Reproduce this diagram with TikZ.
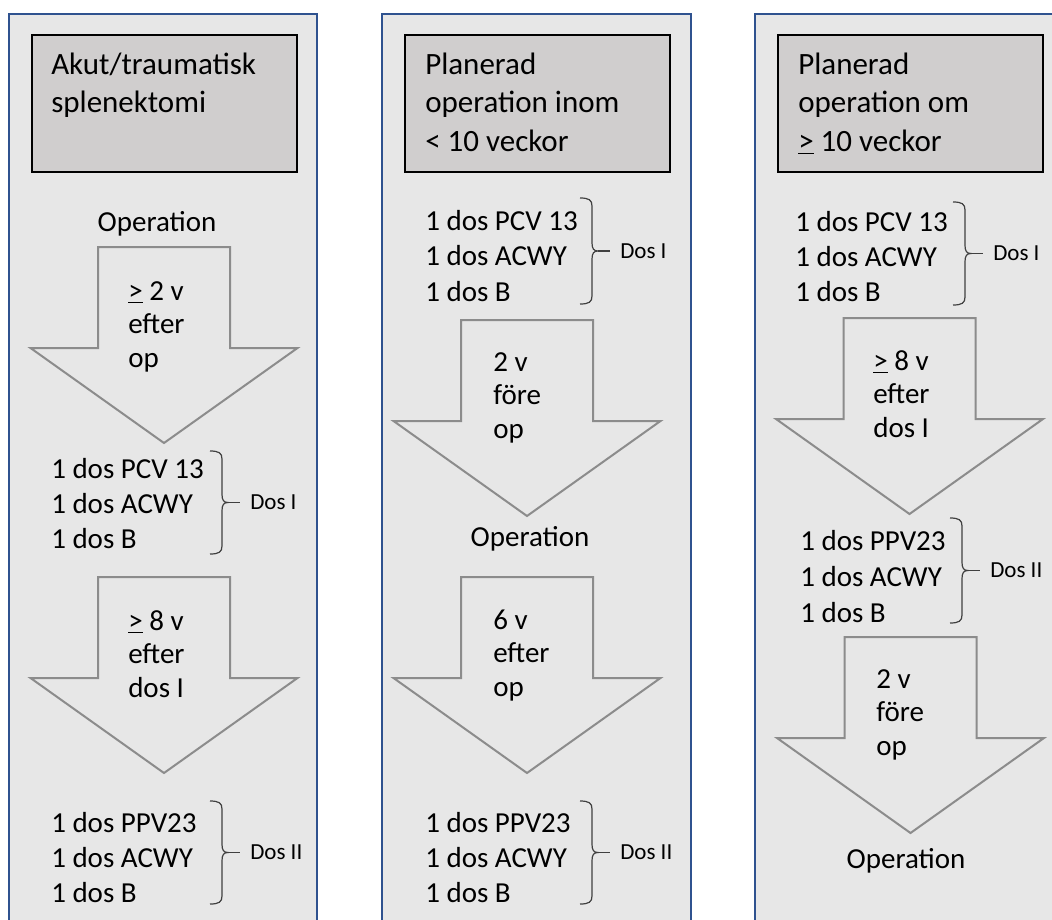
\documentclass[tikz,border=0pt]{standalone}
\usepackage{fontspec}
\setmainfont{Carlito}
\definecolor{panelfill}{RGB}{231,231,231}
\definecolor{panelblue}{RGB}{47,82,143}
\definecolor{hdrfill}{RGB}{208,206,206}
\definecolor{arrowgray}{RGB}{140,140,140}
\newcommand\vdownarrow[2]{%
  \draw[arrowbox] ({#1-66},#2) -- ({#1+66},#2) -- ({#1+66},{#2+101}) -- ({#1+133.5},{#2+101})
    -- (#1,{#2+196}) -- ({#1-133.5},{#2+101}) -- ({#1-66},{#2+101}) -- cycle;}
\newcommand\dosbrace[3]{% x, top, bottom
  \pgfmathsetmacro\bmid{(#2+#3)/2}%
  \draw[bracestyle] ({#1-12},#2) .. controls ({#1-3},#2) and (#1,{#2+2}) .. (#1,{#2+8})
    -- (#1,{\bmid-8}) .. controls (#1,{\bmid-2}) and ({#1+2},\bmid) .. ({#1+6},\bmid)
    .. controls ({#1+2},\bmid) and (#1,{\bmid+2}) .. (#1,{\bmid+8})
    -- (#1,{#3-8}) .. controls (#1,{#3-2}) and ({#1-3},#3) .. ({#1-12},#3);
  \draw[bracestyle] ({#1+6},\bmid) -- ({#1+18},\bmid);}
\begin{document}
\begin{tikzpicture}[x=0.75pt,y=-0.75pt,
  panel/.style={draw=panelblue,fill=panelfill,line width=1.5pt},
  hdrbox/.style={draw=black,fill=hdrfill,line width=1.8pt},
  arrowbox/.style={draw=arrowgray,fill=panelfill,line width=1.5pt,line join=miter},
  bracestyle/.style={draw=black!75,line width=0.9pt},
  hdr/.style={anchor=base west,inner sep=0pt,font=\fontsize{23.25}{28}\selectfont},
  txt/.style={anchor=base west,inner sep=0pt,font=\fontsize{21.75}{26}\selectfont},
  optxt/.style={anchor=base,inner sep=0pt,font=\fontsize{21.75}{26}\selectfont},
  dostxt/.style={anchor=west,inner sep=0pt,font=\fontsize{17.25}{20}\selectfont}]
\useasboundingbox (0,0) rectangle (1052,920);
\clip (0,0) rectangle (1052,920);
\fill[white] (0,0) rectangle (1052,920);
% panels
\draw[panel] (9,14) rectangle (317,940);
\draw[panel] (382,14) rectangle (691,940);
\draw[panel] (755,14) rectangle (1064,940);
% header boxes
\draw[hdrbox] (32,35) rectangle (297,172);
\draw[hdrbox] (405,35) rectangle (670,172);
\draw[hdrbox] (778,35) rectangle (1043,172);
% ---------- panel 1 ----------
\node[hdr] (a1) at (51,75) {Akut/traumatisk};
\node[hdr] (a2) at (51,113) {splenektomi};
\node[optxt] (aop) at (157,231) {Operation};
\vdownarrow{164}{247}
\node[txt] (aa1) at (128,300) {\underline{>} 2 v};
\node[txt] (aa2) at (128,333.5) {efter};
\node[txt] (aa3) at (128,367) {op};
\node[txt] (ad1) at (51,478) {1 dos PCV 13};
\node[txt] (ad2) at (51,513) {1 dos ACWY};
\node[txt] (ad3) at (51,548) {1 dos B};
\dosbrace{222}{451}{554}
\node[dostxt] (adI) at (250,502.5) {Dos I};
\vdownarrow{164}{577}
\node[txt] (ab1) at (128,630) {\underline{>} 8 v};
\node[txt] (ab2) at (128,663.5) {efter};
\node[txt] (ab3) at (128,697) {dos I};
\node[txt] (ae1) at (51,832) {1 dos PPV23};
\node[txt] (ae2) at (51,867) {1 dos ACWY};
\node[txt] (ae3) at (51,902) {1 dos B};
\dosbrace{222}{801}{904}
\node[dostxt] (adII) at (250,852.5) {Dos II};
% ---------- panel 2 ----------
\node[hdr] (b1) at (425,75) {Planerad};
\node[hdr] (b2) at (425,113) {operation inom};
\node[hdr] (b3) at (425,151.5) {< 10 veckor};
\node[txt] (bd1) at (425,230) {1 dos PCV 13};
\node[txt] (bd2) at (425,265.5) {1 dos ACWY};
\node[txt] (bd3) at (425,301) {1 dos B};
\dosbrace{592}{198}{304}
\node[dostxt] (bdI) at (620,251) {Dos I};
\vdownarrow{527}{320}
\node[txt] (ba1) at (493,371) {2 v};
\node[txt] (ba2) at (493,404.5) {före};
\node[txt] (ba3) at (493,438) {op};
\node[optxt] (bop) at (530,546) {Operation};
\vdownarrow{527}{577}
\node[txt] (bb1) at (493,629) {6 v};
\node[txt] (bb2) at (493,662.5) {efter};
\node[txt] (bb3) at (493,696) {op};
\node[txt] (be1) at (425,832) {1 dos PPV23};
\node[txt] (be2) at (425,867) {1 dos ACWY};
\node[txt] (be3) at (425,902) {1 dos B};
\dosbrace{592}{801}{904}
\node[dostxt] (beII) at (620,852.5) {Dos II};
% ---------- panel 3 ----------
\node[hdr] (c1) at (798,75) {Planerad};
\node[hdr] (c2) at (798,113) {operation om};
\node[hdr] (c3) at (798,151.5) {\underline{>} 10 veckor};
\node[txt] (cd1) at (795,231) {1 dos PCV 13};
\node[txt] (cd2) at (795,266) {1 dos ACWY};
\node[txt] (cd3) at (795,301) {1 dos B};
\dosbrace{965}{202}{305}
\node[dostxt] (cdI) at (993,253.5) {Dos I};
\vdownarrow{909.5}{318}
\node[txt] (ca1) at (873,370) {\underline{>} 8 v};
\node[txt] (ca2) at (873,403.5) {efter};
\node[txt] (ca3) at (873,437) {dos I};
\node[txt] (ce1) at (800,550) {1 dos PPV23};
\node[txt] (ce2) at (800,586) {1 dos ACWY};
\node[txt] (ce3) at (800,622) {1 dos B};
\dosbrace{962}{518}{623}
\node[dostxt] (ceII) at (990,570.5) {Dos II};
\vdownarrow{910.5}{637}
\node[txt] (cb1) at (876,688) {2 v};
\node[txt] (cb2) at (876,721.5) {före};
\node[txt] (cb3) at (876,755) {op};
\node[optxt] (cop) at (906,868) {Operation};
\end{tikzpicture}
\end{document}
